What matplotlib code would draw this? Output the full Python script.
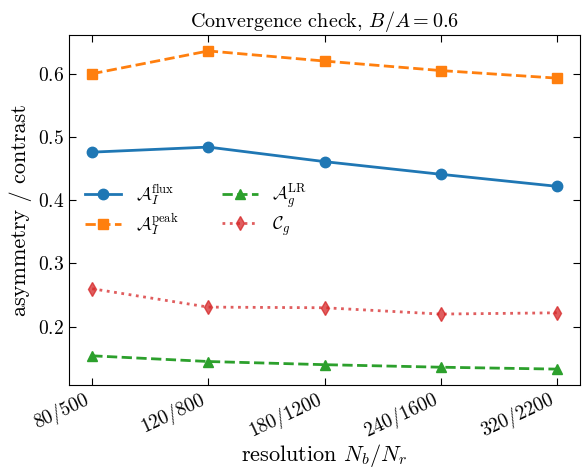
import matplotlib
matplotlib.use("Agg")
import matplotlib.pyplot as plt

plt.rcParams['font.family'] = 'serif'
plt.rcParams['font.serif'] = ['cmr10']
plt.rcParams['mathtext.fontset'] = 'cm'
plt.rcParams['axes.formatter.use_mathtext'] = True
plt.rcParams['axes.unicode_minus'] = False

resolutions = ['80/500', '120/800', '180/1200', '240/1600', '320/2200']
flux = [0.476, 0.484, 0.461, 0.441, 0.422]
peak = [0.600, 0.636, 0.620, 0.605, 0.593]
lr = [0.154, 0.145, 0.140, 0.136, 0.133]
cg = [0.260, 0.231, 0.230, 0.220, 0.222]

fig = plt.figure(figsize=(5.82, 4.72), dpi=100)
ax = fig.add_axes([0.1186, 0.1843, 0.878, 0.7415])
x = list(range(len(resolutions)))
ax.plot(x, flux, '-o', color='#1f77b4', lw=2, ms=7.5, label=r'$\mathcal{A}_I^{\rm flux}$')
ax.plot(x, peak, '--s', color='#ff7f0e', lw=2, ms=7.5, label=r'$\mathcal{A}_I^{\rm peak}$')
ax.plot(x, lr, '--^', color='#2ca02c', lw=2, ms=7.5, label=r'$\mathcal{A}_g^{\rm LR}$')
ax.plot(x, cg, ':d', color='#d62728', alpha=0.75, lw=2, ms=7.5, label=r'$\mathcal{C}_g$')

ax.set_xticks(x)
ax.set_xticklabels(resolutions, rotation=25, ha='right')
ax.tick_params(direction='in', top=True, right=True, labelsize=14, length=5)
ax.set_xlabel(r'resolution $N_b/N_r$', fontsize=16, labelpad=1)
ax.set_ylabel('asymmetry / contrast', fontsize=16)
ax.set_title(r'Convergence check, $B/A=0.6$', fontsize=14.5)
ax.legend(ncol=2, frameon=False, fontsize=13, loc='center left', bbox_to_anchor=(0.0, 0.5),
          labelspacing=0.2, columnspacing=2.4)
fig.savefig('out.png', dpi=100)
